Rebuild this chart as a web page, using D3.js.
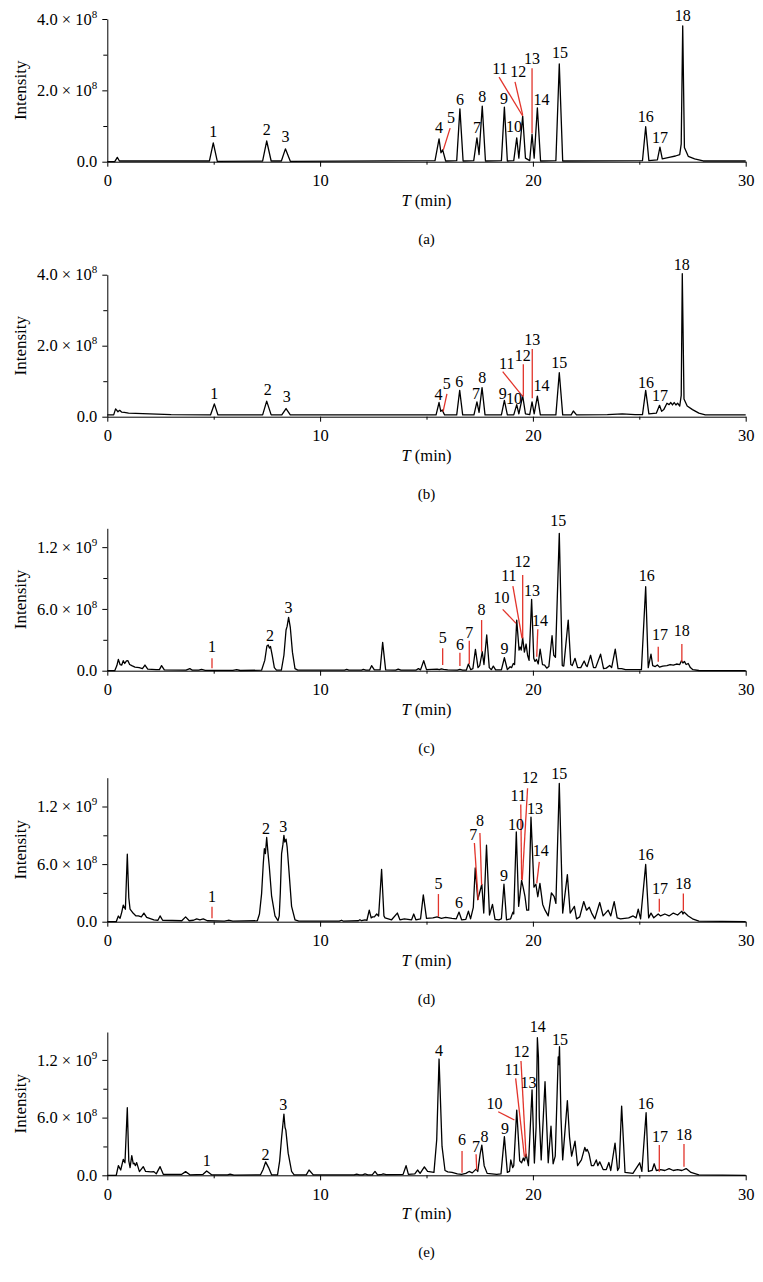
<!DOCTYPE html>
<html><head><meta charset="utf-8">
<script src="https://cdn.jsdelivr.net/npm/d3@7"></script>
<style>body{margin:0;background:#fff}svg{display:block}</style>
</head><body>
<svg id="chart" width="763" height="1282"></svg>
<script>
// ---- DATA (time in min, intensity in units of 1e8) ----
const xTicks = [0, 10, 20, 30];
const xMinor = [5, 15, 25];
const yTicksAB = [0, 2, 4];
const yTickLabelsAB = [["0.0", ""], ["2.0 × 10", "8"], ["4.0 × 10", "8"]];
const yMinorAB = [1, 3];
const yTicksCDE = [0, 6, 12];
const yTickLabelsCDE = [["0.0", ""], ["6.0 × 10", "8"], ["1.2 × 10", "9"]];
const yMinorCDE = [3, 9];
const panelNames = ["(a)", "(b)", "(c)", "(d)", "(e)"];
const yMaxes = [4.0, 4.0, 13.83, 15.0, 14.9];

const traceA = [[0,0],[0.35,0],[0.47,0.12],[0.57,0.02],[1,0.02],[4.8,0.02],[4.98,0.53],[5.17,0.01],[7.3,0.02],[7.49,0.58],[7.7,0.02],[8.18,0.02],[8.37,0.36],[8.6,0.01],[15.4,0.03],[15.59,0.64],[15.68,0.25],[15.76,0.33],[15.9,0.02],[16.42,0.03],[16.57,1.48],[16.72,0.02],[17.22,0.03],[17.37,0.67],[17.47,0.2],[17.62,1.56],[17.77,0.02],[18.52,0.03],[18.66,1.53],[18.8,0.02],[19.1,0.03],[19.24,0.67],[19.34,0.1],[19.52,1.28],[19.65,0.1],[19.85,0.03],[19.96,0.77],[20.06,0.1],[20.21,1.51],[20.36,0.02],[21.08,0.03],[21.24,2.74],[21.4,0.02],[25.15,0.03],[25.3,0.98],[25.45,0.03],[25.85,0.05],[25.97,0.41],[26.08,0.08],[26.4,0.12],[26.7,0.16],[26.9,0.2],[26.97,0.5],[27.04,3.81],[27.12,0.4],[27.3,0.15],[27.6,0.08],[28,0.02],[30,0.02]];

const traceB = [[0,0.05],[0.3,0.05],[0.39,0.22],[0.5,0.14],[0.58,0.18],[0.67,0.13],[0.8,0.12],[1,0.1],[2,0.08],[3,0.06],[4.85,0.05],[5.03,0.36],[5.2,0.05],[7.3,0.05],[7.49,0.44],[7.7,0.05],[8.2,0.05],[8.4,0.23],[8.6,0.05],[15.45,0.05],[15.59,0.4],[15.67,0.15],[15.74,0.19],[15.85,0.05],[16.42,0.05],[16.56,0.74],[16.7,0.05],[17.23,0.05],[17.37,0.42],[17.47,0.12],[17.61,0.82],[17.75,0.05],[18.52,0.05],[18.66,0.46],[18.8,0.05],[19.1,0.05],[19.24,0.34],[19.34,0.08],[19.52,0.59],[19.65,0.08],[19.85,0.06],[19.96,0.42],[20.06,0.08],[20.21,0.58],[20.35,0.05],[21.08,0.05],[21.24,1.24],[21.4,0.05],[21.8,0.05],[21.9,0.16],[22.05,0.05],[23.5,0.06],[24.2,0.08],[24.8,0.06],[25.15,0.06],[25.3,0.74],[25.45,0.08],[25.8,0.1],[25.95,0.32],[26.05,0.15],[26.15,0.2],[26.3,0.38],[26.4,0.34],[26.48,0.4],[26.56,0.33],[26.64,0.4],[26.72,0.33],[26.8,0.38],[26.9,0.3],[26.97,0.6],[27.02,4.03],[27.1,0.5],[27.25,0.3],[27.5,0.2],[27.8,0.1],[28.1,0.05],[30,0.05]];

const traceC = [[0,0],[0.35,0],[0.45,0.5],[0.52,1.1],[0.6,0.6],[0.68,0.55],[0.75,0.97],[0.82,0.7],[0.9,0.95],[0.97,0.97],[1.05,0.6],[1.15,0.49],[1.3,0.35],[1.5,0.3],[1.65,0.2],[1.77,0.55],[1.9,0.15],[2.3,0.1],[2.45,0.1],[2.55,0.49],[2.68,0.08],[3.7,0.05],[3.88,0.2],[4.0,0.05],[4.3,0.05],[4.43,0.13],[4.6,0.04],[5.9,0.03],[6.08,0.1],[6.25,0.02],[7.25,0.05],[7.4,1.0],[7.5,2.4],[7.56,2.5],[7.62,2.2],[7.67,2.35],[7.75,1.5],[7.85,0.3],[7.95,0.05],[8.18,0.05],[8.3,1.5],[8.4,3.95],[8.45,4.3],[8.52,5.18],[8.6,4.2],[8.7,1.8],[8.82,0.2],[8.95,0.05],[11.15,0.05],[11.25,0.12],[11.35,0.05],[11.95,0.05],[12.03,0.12],[12.15,0.05],[12.32,0.05],[12.42,0.49],[12.55,0.08],[12.82,0.08],[12.94,2.75],[13.08,0.08],[13.55,0.05],[13.67,0.15],[13.8,0.05],[14.5,0.05],[14.62,0.2],[14.72,0.08],[14.87,0.97],[15.0,0.1],[15.5,0.15],[15.6,0.1],[15.7,0.18],[15.8,0.12],[16.0,0.08],[16.45,0.05],[16.57,0.12],[16.7,0.05],[16.87,0.05],[16.97,0.65],[17.08,0.1],[17.18,0.2],[17.3,2.08],[17.42,0.3],[17.5,0.5],[17.62,1.84],[17.7,0.6],[17.83,3.47],[17.95,0.3],[18.05,0.1],[18.14,0.45],[18.25,0.08],[18.52,0.08],[18.66,1.26],[18.8,0.1],[18.93,0.39],[19.0,0.3],[19.08,0.7],[19.14,0.6],[19.24,4.92],[19.35,2.0],[19.4,2.3],[19.45,2.0],[19.52,3.2],[19.6,1.8],[19.68,2.59],[19.75,1.5],[19.82,1.0],[19.94,6.93],[20.04,1.2],[20.1,0.9],[20.17,1.1],[20.25,0.65],[20.34,2.1],[20.45,0.6],[20.55,0.55],[20.65,0.25],[20.75,0.4],[20.9,3.4],[20.98,1.5],[21.06,1.3],[21.24,13.34],[21.38,0.5],[21.45,0.45],[21.66,4.92],[21.78,0.6],[21.85,0.5],[21.98,1.2],[22.1,0.3],[22.25,0.3],[22.41,0.94],[22.5,0.5],[22.55,0.4],[22.71,1.5],[22.85,0.3],[22.95,0.3],[23.18,1.6],[23.32,0.2],[23.45,0.25],[23.61,0.5],[23.7,0.3],[23.87,2.1],[24.0,0.2],[24.17,0.2],[24.35,0.1],[24.71,0.1],[25.1,0.1],[25.3,8.16],[25.42,0.3],[25.55,1.6],[25.63,0.5],[25.75,0.4],[25.85,0.55],[25.95,0.35],[26.1,0.45],[26.3,0.5],[26.45,0.6],[26.6,0.55],[26.75,0.65],[26.9,0.6],[26.98,0.97],[27.05,0.75],[27.12,0.9],[27.2,0.6],[27.3,0.7],[27.4,0.3],[27.52,0.1],[27.8,0.02],[30,0]];

const traceD = [[0,0],[0.42,0],[0.47,0.3],[0.52,0.59],[0.6,0.35],[0.68,1.0],[0.75,1.73],[0.85,1.3],[0.94,7.03],[1.01,2.5],[1.07,1.3],[1.22,0.87],[1.35,0.6],[1.46,0.6],[1.6,0.5],[1.72,0.9],[1.85,0.45],[2.19,0.2],[2.38,0.15],[2.48,0.6],[2.6,0.15],[3.5,0.1],[3.68,0.5],[3.85,0.1],[4.05,0.15],[4.2,0.3],[4.35,0.2],[4.51,0.3],[4.7,0.1],[5.5,0.05],[5.69,0.15],[5.9,0.05],[7.05,0.1],[7.15,0.8],[7.25,2.9],[7.33,6.06],[7.38,7.6],[7.43,7.1],[7.49,8.77],[7.55,7.2],[7.61,5.8],[7.72,2.7],[7.88,0.6],[8.02,0.1],[8.08,0.6],[8.13,3.0],[8.19,7.1],[8.25,8.0],[8.3,9.0],[8.34,8.3],[8.4,8.6],[8.45,7.8],[8.52,5.8],[8.66,1.6],[8.82,0.2],[9.0,0.05],[10.9,0.05],[11.01,0.15],[11.1,0.05],[11.8,0.1],[11.87,0.2],[11.95,0.1],[12.11,0.2],[12.2,0.15],[12.31,1.2],[12.4,0.4],[12.47,0.5],[12.55,0.5],[12.66,0.8],[12.75,0.6],[12.89,5.44],[13.0,0.6],[13.05,0.4],[13.36,0.2],[13.63,0.9],[13.75,0.2],[13.96,0.3],[14.3,0.2],[14.4,0.8],[14.5,0.2],[14.72,0.3],[14.85,2.8],[15.0,0.35],[15.3,0.4],[15.5,0.5],[15.7,0.35],[15.9,0.45],[16.2,0.35],[16.4,0.3],[16.53,1.0],[16.65,0.2],[16.85,0.25],[16.97,1.1],[17.07,0.3],[17.2,1.5],[17.29,5.6],[17.41,2.3],[17.6,3.9],[17.69,0.9],[17.82,7.97],[17.96,0.7],[18.1,1.8],[18.22,0.25],[18.4,0.2],[18.52,0.3],[18.64,3.9],[18.76,0.2],[18.95,0.3],[19.06,1.0],[19.1,0.8],[19.22,9.35],[19.33,1.6],[19.47,4.3],[19.55,3.5],[19.63,2.6],[19.71,1.2],[19.8,1.2],[19.91,10.9],[20.05,3.6],[20.14,3.9],[20.23,2.6],[20.33,4.0],[20.46,1.8],[20.57,1.2],[20.72,0.6],[20.87,3.0],[21.0,2.6],[21.08,1.9],[21.24,14.4],[21.4,0.9],[21.62,4.9],[21.75,0.9],[21.95,1.6],[22.05,0.3],[22.2,0.5],[22.39,2.1],[22.52,1.2],[22.65,1.5],[22.76,0.9],[22.91,0.3],[23.14,2.0],[23.3,0.6],[23.54,1.2],[23.66,0.6],[23.82,2.1],[23.96,0.4],[24.12,0.3],[24.5,0.4],[24.71,0.6],[24.85,0.4],[24.95,1.3],[25.06,0.3],[25.3,5.96],[25.44,0.4],[25.55,0.9],[25.68,0.4],[25.89,0.8],[26.0,0.6],[26.2,0.8],[26.4,0.6],[26.6,0.9],[26.8,0.7],[27.0,1.1],[27.05,0.8],[27.1,1.0],[27.3,0.6],[27.5,0.3],[27.8,0.05],[30,0]];

const traceE = [[0,0],[0.42,0],[0.47,0.5],[0.52,1.0],[0.63,0.55],[0.75,1.66],[0.83,1.3],[0.94,7.03],[1.01,1.5],[1.07,0.8],[1.15,2.04],[1.22,1.2],[1.27,1.25],[1.32,1.0],[1.38,1.32],[1.51,0.38],[1.69,0.9],[1.8,0.4],[2.05,0.35],[2.19,0.38],[2.3,0.15],[2.48,0.9],[2.63,0.1],[3.5,0.1],[3.68,0.38],[3.88,0.05],[4.5,0.1],[4.67,0.45],[4.9,0.05],[5.65,0.05],[5.77,0.12],[5.95,0.02],[7.2,0.05],[7.32,0.6],[7.44,1.4],[7.58,0.8],[7.72,0.05],[8.0,0.05],[8.1,1.5],[8.19,3.9],[8.3,6.37],[8.35,5.0],[8.39,4.7],[8.5,2.3],[8.66,0.4],[8.78,0.05],[9.35,0.05],[9.48,0.55],[9.68,0.05],[11.6,0.05],[11.72,0.12],[11.85,0.05],[12.0,0.05],[12.11,0.15],[12.25,0.05],[12.45,0.05],[12.58,0.4],[12.7,0.05],[12.9,0.1],[12.97,0.15],[13.1,0.08],[13.9,0.1],[14.04,1.0],[14.15,0.1],[14.45,0.15],[14.58,0.55],[14.7,0.2],[14.9,0.88],[15.05,0.4],[15.35,0.3],[15.48,3.7],[15.59,12.09],[15.73,3.0],[15.87,0.5],[16.0,0.35],[16.2,0.3],[16.45,0.15],[16.65,0.1],[16.85,0.2],[17.0,0.4],[17.15,0.25],[17.33,0.64],[17.41,0.4],[17.52,2.2],[17.6,3.13],[17.71,1.0],[17.85,0.2],[18.3,0.1],[18.5,0.15],[18.66,4.02],[18.8,0.3],[18.9,0.4],[18.96,1.59],[19.05,0.8],[19.1,1.0],[19.24,6.78],[19.38,1.5],[19.47,1.3],[19.55,1.8],[19.6,1.5],[19.68,2.2],[19.79,1.0],[19.96,8.87],[20.07,1.28],[20.15,5.0],[20.21,14.31],[20.26,12.3],[20.3,6.0],[20.39,1.6],[20.57,9.73],[20.72,1.3],[20.85,5.1],[20.95,1.2],[21.05,2.0],[21.19,12.3],[21.22,11.5],[21.25,13.37],[21.32,6.0],[21.4,1.6],[21.62,7.76],[21.72,4.0],[21.82,2.0],[21.98,3.54],[22.1,1.0],[22.28,1.6],[22.44,2.9],[22.5,2.5],[22.55,2.7],[22.64,2.24],[22.75,1.0],[22.85,1.0],[22.98,1.6],[23.05,1.0],[23.14,1.4],[23.3,0.6],[23.45,0.6],[23.57,1.33],[23.66,0.5],[23.86,3.34],[23.98,0.5],[24.05,0.8],[24.17,7.2],[24.33,0.3],[24.7,0.2],[25.02,1.3],[25.12,0.4],[25.32,6.51],[25.43,0.4],[25.6,0.5],[25.7,1.2],[25.8,0.5],[26.0,0.6],[26.2,0.5],[26.4,0.7],[26.6,0.5],[26.8,0.6],[27.0,0.5],[27.2,0.7],[27.43,0.3],[27.8,0.05],[30,0]];

// peak labels: [text, time, intensity at label centre]
const labelsA = [["1",4.98,0.84],["2",7.49,0.91],["3",8.37,0.70],["4",15.59,0.95],["5",16.15,1.25],["6",16.57,1.76],["7",17.37,0.96],["8",17.62,1.82],["9",18.64,1.78],["10",19.11,0.98],["11",18.45,2.62],["12",19.31,2.52],["13",19.96,2.90],["14",20.40,1.76],["15",21.27,3.07],["16",25.30,1.26],["17",25.97,0.68],["18",27.04,4.11]];
const labelsB = [["1",5.03,0.66],["2",7.54,0.78],["3",8.43,0.57],["4",15.56,0.64],["5",15.95,0.93],["6",16.54,0.99],["7",17.33,0.66],["8",17.62,1.10],["9",18.58,0.66],["10",19.11,0.52],["11",18.77,1.51],["12",19.52,1.72],["13",19.97,2.19],["14",20.40,0.87],["15",21.24,1.54],["16",25.31,0.97],["17",25.97,0.59],["18",26.99,4.29]];
const labelsC = [["1",4.92,2.4],["2",7.65,3.47],["3",8.52,6.16],["5",15.76,3.24],["6",16.57,2.56],["7",17.01,3.73],["8",17.59,5.99],["9",18.66,2.17],["10",18.53,7.13],["11",18.87,9.25],["12",19.51,10.6],["13",19.96,7.83],["14",20.33,4.92],["15",21.19,14.56],["16",25.35,9.29],["17",25.97,3.56],["18",27.0,3.88]];
const labelsD = [["1",4.92,2.6],["2",7.46,9.7],["3",8.27,9.94],["5",15.56,3.99],["6",16.53,1.97],["7",17.2,9.1],["8",17.51,10.56],["9",18.64,4.85],["10",19.21,10.1],["11",19.31,13.2],["12",19.86,15.06],["13",20.1,11.77],["14",20.37,7.45],["15",21.24,15.47],["16",25.3,7.03],["17",25.97,3.47],["18",27.07,3.99]];
const labelsE = [["1",4.67,1.59],["2",7.44,2.21],["3",8.27,7.41],["4",15.59,13.0],["6",16.67,3.74],["7",17.33,3.05],["8",17.72,4.0],["9",18.69,4.88],["10",18.19,7.48],["11",19.03,11.0],["12",19.47,12.92],["13",19.79,9.67],["14",20.23,15.45],["15",21.27,14.17],["16",25.3,7.48],["17",25.97,4.0],["18",27.1,4.29]];

// red leader lines: [t1, v1, t2, v2]
const leadsA = [[16.11,0.94,15.79,0.33],[18.41,2.37,19.52,1.28],[19.16,2.24,19.52,1.31],[19.96,2.62,19.96,0.80]];
const leadsB = [[15.96,0.64,15.78,0.14],[18.58,1.27,19.52,0.57],[19.55,1.48,19.55,0.57],[19.97,1.91,19.97,0.52]];
const leadsC = [[4.92,1.2,4.92,0.23],[15.76,2.17,15.76,0.55],[16.57,1.75,16.57,0.46],[17.01,2.91,17.01,0.65],[17.59,4.92,17.59,1.84],[18.58,5.96,19.21,4.6],[19.06,8.22,19.49,3.15],[19.52,9.29,19.52,3.15],[20.23,4.02,20.18,1.36],[25.89,2.33,25.89,0.87],[27.0,2.59,27.0,0.87]];
const leadsD = [[4.92,1.56,4.92,0.35],[15.56,2.88,15.56,0.52],[17.25,8.2,17.43,2.25],[17.51,9.24,17.59,3.81],[19.43,12.2,19.47,4.4],[19.75,13.9,19.5,4.33],[20.3,6.23,20.18,3.99],[25.94,2.39,25.94,1.04],[27.07,2.95,27.07,1.14]];
const leadsE = [[16.67,2.52,16.67,0.27],[17.33,2.18,17.36,0.55],[18.37,6.61,19.13,5.75],[19.19,10.08,19.6,1.93],[19.44,11.88,19.68,1.93],[25.94,3.15,25.94,0.37],[27.1,3.25,27.1,0.89]];

// ---- LAYOUT ----
const FONT = "Liberation Serif, Times New Roman, serif";
const RED = "#e2342b";
const X0 = 107.3, X1 = 745.7;
const frames = [[161.7, 19.0], [416.7, 274.7], [670.7, 528.3], [921.7, 777.7], [1175.3, 1032.0]];

const panels = [
  {trace: traceA, labels: labelsA, leads: leadsA, ticks: yTicksAB, tickLabels: yTickLabelsAB, minor: yMinorAB},
  {trace: traceB, labels: labelsB, leads: leadsB, ticks: yTicksAB, tickLabels: yTickLabelsAB, minor: yMinorAB},
  {trace: traceC, labels: labelsC, leads: leadsC, ticks: yTicksCDE, tickLabels: yTickLabelsCDE, minor: yMinorCDE},
  {trace: traceD, labels: labelsD, leads: leadsD, ticks: yTicksCDE, tickLabels: yTickLabelsCDE, minor: yMinorCDE},
  {trace: traceE, labels: labelsE, leads: leadsE, ticks: yTicksCDE, tickLabels: yTickLabelsCDE, minor: yMinorCDE}
];

const svg = d3.select("#chart");
svg.append("rect").attr("width", 763).attr("height", 1282).attr("fill", "#fff");
const x = d3.scaleLinear().domain([0, 30]).range([X0, X1]);

panels.forEach((p, i) => {
  const [bot, top] = frames[i];
  const y = d3.scaleLinear().domain([0, yMaxes[i]]).range([bot, top]);
  const g = svg.append("g");

  // trace
  g.append("path").datum(p.trace)
    .attr("d", d3.line().x(d => x(d[0])).y(d => y(d[1])))
    .attr("fill", "none").attr("stroke", "#000").attr("stroke-width", 1.3)
    .attr("stroke-linejoin", "round");

  // x axis
  g.append("g").attr("transform", `translate(0,${bot})`)
    .call(d3.axisBottom(x).tickValues(xTicks).tickSize(5).tickSizeOuter(0).tickPadding(8).tickFormat(d3.format("d")));
  g.append("g").attr("transform", `translate(0,${bot})`)
    .call(d3.axisBottom(x).tickValues(xMinor).tickSize(3).tickSizeOuter(0).tickFormat(""))
    .select(".domain").remove();

  // y axis
  const ya = g.append("g").attr("transform", `translate(${X0},0)`)
    .call(d3.axisLeft(y).tickValues(p.ticks).tickSize(5).tickSizeOuter(0).tickPadding(5));
  ya.selectAll(".tick text").each(function(d, k) {
    const t = d3.select(this);
    const lab = p.tickLabels[k];
    t.text(lab[0]);
    if (lab[1]) t.append("tspan").attr("dy", -7).attr("font-size", 11).text(lab[1]);
  });
  g.append("g").attr("transform", `translate(${X0},0)`)
    .call(d3.axisLeft(y).tickValues(p.minor).tickSize(4).tickSizeOuter(0).tickFormat(""))
    .select(".domain").remove();

  g.selectAll(".domain, .tick line").attr("stroke", "#000").attr("stroke-width", 1);
  g.selectAll(".tick text").attr("font-family", FONT).attr("font-size", 16.5).attr("fill", "#000");

  // axis titles
  g.append("text").attr("transform", `translate(20,${(bot + top) / 2}) rotate(-90)`)
    .attr("text-anchor", "middle").attr("dy", "0.35em")
    .attr("font-family", FONT).attr("font-size", 17).text("Intensity");
  const tl = g.append("text").attr("x", x(15)).attr("y", bot + 44)
    .attr("text-anchor", "middle").attr("font-family", FONT).attr("font-size", 16.5);
  tl.append("tspan").attr("font-style", "italic").text("T");
  tl.append("tspan").text(" (min)");
  g.append("text").attr("x", x(15)).attr("y", bot + 82)
    .attr("text-anchor", "middle").attr("font-family", FONT).attr("font-size", 15)
    .text(panelNames[i]);

  // leader lines
  g.selectAll("line.lead").data(p.leads).join("line").attr("class", "lead")
    .attr("x1", d => x(d[0])).attr("y1", d => y(d[1]))
    .attr("x2", d => x(d[2])).attr("y2", d => y(d[3]))
    .attr("stroke", RED).attr("stroke-width", 1.3);

  // peak labels
  g.selectAll("text.pk").data(p.labels).join("text").attr("class", "pk")
    .attr("x", d => x(d[1])).attr("y", d => y(d[2]))
    .attr("dy", "0.35em").attr("text-anchor", "middle")
    .attr("font-family", FONT).attr("font-size", 16).attr("fill", "#000")
    .text(d => d[0]);
});
</script>
</body></html>
